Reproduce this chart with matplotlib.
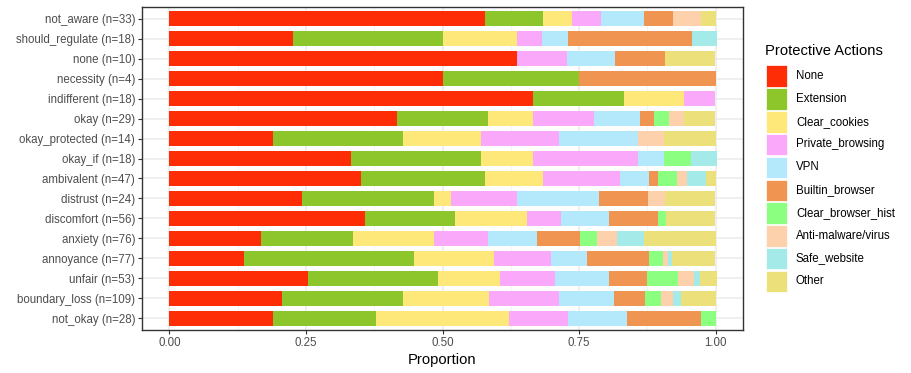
import matplotlib.pyplot as plt
from matplotlib.patches import Rectangle
import numpy as np

plt.rcParams['font.family'] = ['Liberation Sans', 'DejaVu Sans']

categories = ["not_aware (n=33)", "should_regulate (n=18)", "none (n=10)", "necessity (n=4)",
              "indifferent (n=18)", "okay (n=29)", "okay_protected (n=14)", "okay_if (n=18)",
              "ambivalent (n=47)", "distrust (n=24)", "discomfort (n=56)", "anxiety (n=76)",
              "annoyance (n=77)", "unfair (n=53)", "boundary_loss (n=109)", "not_okay (n=28)"]

actions = ["None", "Extension", "Clear_cookies", "Private_browsing", "VPN", "Builtin_browser",
           "Clear_browser_hist", "Anti-malware/virus", "Safe_website", "Other"]

none_ = [0.578, 0.227, 0.636, 0.5, 0.665, 0.417, 0.19, 0.333, 0.351, 0.243, 0.358, 0.168, 0.137, 0.254, 0.207, 0.189]
extension = [0.106, 0.273, 0, 0.25, 0.168, 0.166, 0.238, 0.238, 0.227, 0.241, 0.164, 0.168, 0.311, 0.238, 0.221, 0.19]
clear_cookies = [0.053, 0.137, 0, 0, 0.109, 0.082, 0.143, 0.095, 0.106, 0.031, 0.133, 0.148, 0.146, 0.114, 0.157, 0.243]
private_browsing = [0.053, 0.046, 0.091, 0, 0.057, 0.112, 0.142, 0.192, 0.141, 0.121, 0.061, 0.099, 0.104, 0.099, 0.128, 0.108]
vpn = [0.078, 0.046, 0.089, 0, 0, 0.084, 0.144, 0.048, 0.053, 0.151, 0.089, 0.09, 0.067, 0.099, 0.1, 0.108]
builtin_browser = [0.053, 0.227, 0.091, 0.25, 0, 0.027, 0, 0, 0.016, 0.089, 0.089, 0.078, 0.113, 0.07, 0.057, 0.136]
clear_browser_hist = [0, 0, 0, 0, 0, 0.027, 0, 0.048, 0.035, 0, 0.015, 0.031, 0.026, 0.057, 0.03, 0.027]
anti_malware = [0.052, 0, 0, 0, 0, 0.027, 0.048, 0, 0.018, 0.031, 0, 0.038, 0.009, 0.029, 0.021, 0]
safe_website = [0, 0.046, 0, 0, 0, 0, 0, 0.048, 0.035, 0, 0, 0.049, 0.0065, 0.012, 0.016, 0]
other = [0.027, 0, 0.091, 0, 0, 0.057, 0.095, 0, 0.018, 0.091, 0.089, 0.131, 0.08, 0.03, 0.063, 0]

series = [none_, extension, clear_cookies, private_browsing, vpn, builtin_browser,
          clear_browser_hist, anti_malware, safe_website, other]
colors = ["#FF2D05", "#8CC62A", "#FFE87A", "#F9A8FA", "#B3E9FB", "#F09451",
          "#8AFF80", "#FDD1AB", "#A4EAE9", "#ECE07A"]

W, H = 911, 373
fig = plt.figure(figsize=(W / 100, H / 100), dpi=100)
ax = fig.add_axes([142 / W, 1 - 330 / H, (743 - 142) / W, (330 - 7) / H])

y = np.arange(len(categories))
left = np.zeros(len(categories))
for vals, col, name in zip(series, colors, actions):
    vals = np.array(vals, dtype=float)
    ax.barh(y, vals, left=left, height=0.75, color=col, label=name, zorder=2)
    left += vals

ax.set_xlim(-0.05, 1.05)
ax.set_ylim(len(categories) - 0.4, -0.6)
ax.set_yticks(y)
ax.set_yticklabels(categories)
ax.set_xticks([0, 0.25, 0.5, 0.75, 1.0])
ax.set_xticklabels(["0.00", "0.25", "0.50", "0.75", "1.00"])
ax.set_xticks([0.125, 0.375, 0.625, 0.875], minor=True)

ax.grid(True, which='major', color='#EBEBEB', linewidth=1.1, zorder=0)
ax.grid(True, which='minor', axis='x', color='#F2F2F2', linewidth=0.6, zorder=0)
ax.set_axisbelow(True)
ax.tick_params(axis='both', which='major', length=3, width=0.8, color='#333333',
               labelsize=8.3, labelcolor='#4D4D4D', pad=2)
ax.tick_params(axis='both', which='minor', length=0)
for sp in ax.spines.values():
    sp.set_color('#333333')
    sp.set_linewidth(1.0)

ax.set_xlabel("Proportion", fontsize=10.6, labelpad=3)

# legend drawn by hand, ggplot style
fig.text(765 / W, 1 - 51 / H, "Protective Actions", fontsize=10.6, va='center', ha='left')
key_top = 65
for i, (name, col) in enumerate(zip(actions, colors)):
    top = key_top + i * 22.8
    fig.patches.append(Rectangle((766 / W, 1 - (top + 22) / H), 21 / W, 21.5 / H,
                                 transform=fig.transFigure, facecolor=col, edgecolor='white',
                                 linewidth=0.5))
    fig.text(796 / W, 1 - (top + 11) / H, name, fontsize=8.3, va='center', ha='left')

fig.savefig("out.png", dpi=100)
